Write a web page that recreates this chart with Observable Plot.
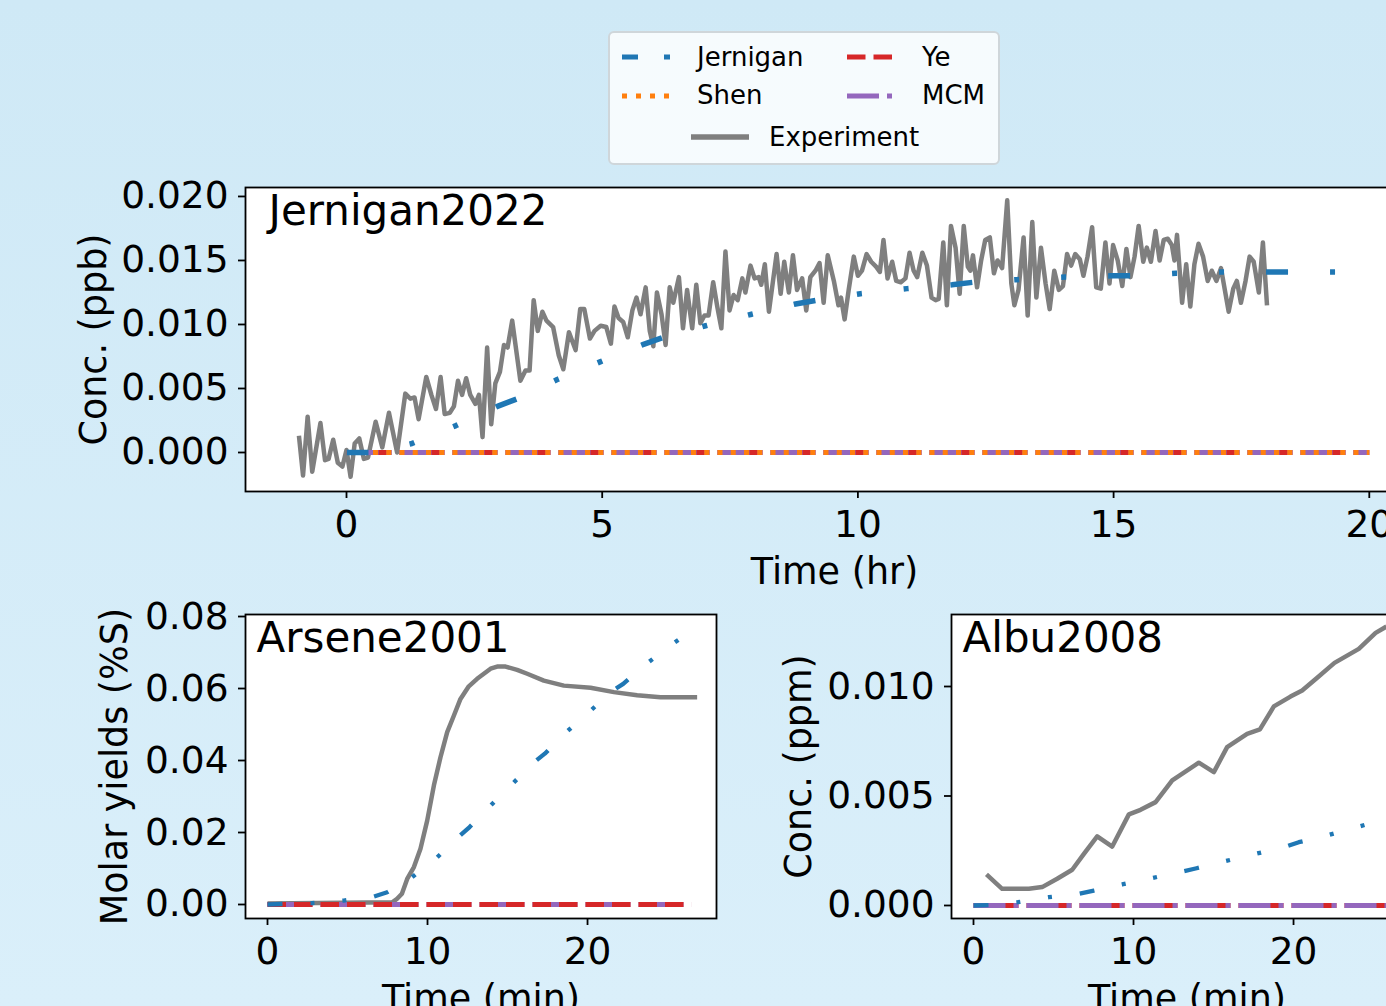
<!DOCTYPE html>
<html><head><meta charset="utf-8">
<script src="https://cdn.jsdelivr.net/npm/d3@7"></script>
<script src="https://cdn.jsdelivr.net/npm/@observablehq/plot@0.6"></script>
<style>
html,body{margin:0;padding:0;}
#fig{position:relative;width:1386px;height:1006px;overflow:hidden;background:linear-gradient(180deg,#cfe9f6 0%,#daeffa 100%);font-family:"DejaVu Sans",sans-serif;}
#legend{position:absolute;left:608px;top:31px;width:388px;height:130px;border:2px solid #cfd6da;border-radius:6px;background:rgba(255,255,255,0.8);}
</style></head><body><div id="fig"><div id="legend"></div></div>
<script>
// ---------- data ----------
const seriesNames = ["Jernigan", "Shen", "Ye", "MCM", "Experiment"];
const colors = {Jernigan: "#1f77b4", Shen: "#ff7f0e", Ye: "#d62728", MCM: "#9467bd", Experiment: "#7f7f7f"};

// Top panel: Jernigan2022 (hr, ppb)
const jerTopExpT = [-0.93,-0.85,-0.76,-0.67,-0.51,-0.42,-0.35,-0.26,-0.17,-0.08,
0.00,0.08,0.16,0.25,0.34,0.42,0.57,0.70,0.83,0.99,
1.15,1.25,1.33,1.41,1.56,1.66,1.75,1.84,1.92,2.02,
2.10,2.18,2.26,2.34,2.42,2.52,2.59,2.66,2.75,2.83,
2.91,3.00,3.08,3.15,3.24,3.40,3.50,3.58,3.66,3.74,
3.83,3.91,4.04,4.15,4.24,4.35,4.48,4.57,4.65,4.76,
4.85,4.97,5.08,5.17,5.24,5.32,5.41,5.50,5.59,5.67,
5.75,5.85,5.93,6.00,6.07,6.16,6.24,6.32,6.39,6.50,
6.58,6.66,6.76,6.84,6.92,7.00,7.08,7.17,7.25,7.33,
7.41,7.49,7.57,7.65,7.74,7.80,7.90,7.98,8.06,8.11,
8.18,8.26,8.41,8.49,8.56,8.65,8.73,8.81,8.91,8.99,
9.07,9.17,9.25,9.33,9.41,9.53,9.62,9.67,9.74,9.82,
9.92,10.00,10.08,10.17,10.26,10.36,10.43,10.50,10.58,10.67,
10.75,10.84,10.93,11.01,11.09,11.16,11.26,11.35,11.44,11.52,
11.58,11.67,11.74,11.82,11.91,11.99,12.07,12.15,12.20,12.25,
12.33,12.41,12.49,12.58,12.66,12.73,12.82,12.92,13.00,13.06,
13.14,13.24,13.32,13.41,13.49,13.58,13.67,13.75,13.84,13.93,
14.01,14.09,14.17,14.25,14.34,14.41,14.49,14.58,14.66,14.75,
14.84,14.92,14.99,15.08,15.17,15.25,15.33,15.41,15.49,15.58,
15.65,15.73,15.82,15.90,15.98,16.06,16.14,16.19,16.24,16.34,
16.42,16.50,16.58,16.66,16.75,16.84,16.92,17.01,17.10,17.25,
17.34,17.41,17.49,17.58,17.66,17.74,17.84,17.92,18.00];
const jerTopExpV = [0.0013,-0.0018,0.0028,-0.0015,0.0023,-0.0006,-0.0005,0.0010,-0.0008,-0.0011,
0.0002,-0.0019,0.0007,0.0011,-0.0005,-0.0004,0.0024,0.0004,0.0031,0.0000,
0.0046,0.0042,0.0043,0.0026,0.0059,0.0045,0.0034,0.0059,0.0030,0.0031,
0.0036,0.0056,0.0045,0.0058,0.0045,0.0038,0.0045,0.0012,0.0082,0.0022,
0.0054,0.0063,0.0084,0.0082,0.0103,0.0056,0.0064,0.0064,0.0119,0.0095,
0.0110,0.0103,0.0098,0.0076,0.0065,0.0094,0.0080,0.0112,0.0112,0.0089,
0.0095,0.0099,0.0098,0.0085,0.0114,0.0105,0.0102,0.0090,0.0111,0.0121,
0.0108,0.0129,0.0095,0.0083,0.0125,0.0108,0.0084,0.0129,0.0117,0.0137,
0.0097,0.0127,0.0097,0.0131,0.0101,0.0107,0.0107,0.0133,0.0114,0.0097,
0.0157,0.0111,0.0123,0.0119,0.0136,0.0125,0.0146,0.0136,0.0137,0.0131,
0.0147,0.0110,0.0155,0.0124,0.0149,0.0125,0.0154,0.0127,0.0136,0.0111,
0.0137,0.0142,0.0148,0.0117,0.0154,0.0134,0.0115,0.0121,0.0104,0.0127,
0.0153,0.0138,0.0142,0.0155,0.0149,0.0145,0.0141,0.0166,0.0136,0.0149,
0.0134,0.0133,0.0136,0.0156,0.0142,0.0137,0.0156,0.0146,0.0121,0.0119,
0.0120,0.0164,0.0115,0.0177,0.0160,0.0124,0.0177,0.0145,0.0142,0.0154,
0.0129,0.0150,0.0166,0.0168,0.0140,0.0150,0.0144,0.0197,0.0132,0.0115,
0.0127,0.0168,0.0107,0.0180,0.0121,0.0160,0.0132,0.0112,0.0142,0.0127,
0.0130,0.0155,0.0146,0.0155,0.0151,0.0138,0.0153,0.0176,0.0129,0.0128,
0.0164,0.0132,0.0162,0.0150,0.0130,0.0159,0.0137,0.0153,0.0177,0.0149,
0.0160,0.0149,0.0173,0.0150,0.0166,0.0167,0.0162,0.0150,0.0170,0.0117,
0.0147,0.0114,0.0147,0.0163,0.0153,0.0134,0.0142,0.0134,0.0144,0.0110,
0.0128,0.0134,0.0117,0.0134,0.0153,0.0149,0.0125,0.0164,0.0115];
const jerTopModT = [0,0.5,1.28,2.14,2.95,3.34,4.12,4.97,5.78,6.2,7.02,7.92,8.78,9.2,10.05,10.96,11.84,12.26,13.11,14.06,14.94,15.36,16.22,17.15,18.0,19.3,20];
const jerTopModV = [0,0,0.0007,0.0021,0.0036,0.0042,0.0057,0.0071,0.0084,0.0090,0.0099,0.0108,0.0116,0.0119,0.0124,0.0128,0.0131,0.0133,0.0135,0.0137,0.0138,0.0138,0.0140,0.0141,0.0141,0.0141,0.0141];
const jerTopZeroT = [0, 20];
const jerTopZeroV = [0, 0];

// Bottom-left: Arsene2001 (min, molar yield %S)
const arsExpT = [0,7.8,8.1,8.4,8.73,9.15,9.56,9.98,10.4,10.81,11.23,11.65,12.06,12.58,13.1,13.94,14.35,14.88,15.6,16.23,17.27,18.52,20.19,21.65,23.1,24.56,26.85];
const arsExpV = [0.0003,0.0006,0.0016,0.003,0.0071,0.0104,0.0155,0.0233,0.0331,0.0409,0.0479,0.0525,0.0571,0.0606,0.0627,0.0655,0.0661,0.0661,0.0652,0.0641,0.0622,0.0608,0.0602,0.059,0.0581,0.0576,0.0576];
const arsModT = [0,2.79,4.77,6.65,7.48,9.04,10.6,11.92,12.63,13.9,15.3,16.6,17.33,18.63,20.13,21.54,22.23,23.63,25.23,26.0];
const arsModV = [0,0.0004,0.0011,0.0022,0.0034,0.0076,0.0131,0.0187,0.0215,0.0273,0.0335,0.0393,0.0419,0.0477,0.0536,0.0593,0.0613,0.0667,0.0721,0.0745];
const arsZeroT = [0, 26.5];
const arsZeroV = [0, 0];

// Bottom-right: Albu2008 (min, ppm)
const albExpT = [0.81,1.79,3.46,4.29,5.23,6.17,6.9,7.73,8.67,9.71,10.44,11.38,12.42,14.08,15.02,15.85,17.1,17.9,18.77,19.81,20.54,21.48,22.56,24.08,25.13,25.81];
const albExpV = [0.00142,0.00076,0.00076,0.00084,0.00122,0.00163,0.00236,0.00316,0.00269,0.00416,0.00437,0.00472,0.00571,0.00652,0.00609,0.00723,0.00784,0.00804,0.00909,0.00954,0.00982,0.0104,0.01108,0.01172,0.01245,0.01274];
const albModT = [0,1.0,2.77,4.71,6.58,7.52,9.29,11.21,13.04,13.94,15.71,17.63,19.4,20.33,22.1,23.98,25.8,27];
const albModV = [0,0.00002,0.00015,0.00038,0.00053,0.00068,0.00096,0.00126,0.00155,0.0017,0.00202,0.00236,0.00266,0.00289,0.0032,0.00358,0.00396,0.0042];
const albZeroT = [0, 27];
const albZeroV = [0, 0];

// ticks
const topXTicks = [0,5,10,15,20];
const topYTicks = [0,0.005,0.010,0.015,0.020];
const arsXTicks = [0,10,20];
const arsYTicks = [0,0.02,0.04,0.06,0.08];
const albXTicks = [0,10,20];
const albYTicks = [0,0.005,0.010];

// ---------- helpers ----------
const rows = (T, V) => T.map((t, i) => ({t, v: V[i]}));
const FONT = "DejaVu Sans";
const styles = {
  Jernigan: {stroke: colors.Jernigan},
  Shen: {stroke: colors.Shen, strokeWidth: 5, strokeDasharray: "5,8.25"},
  Ye: {stroke: colors.Ye, strokeWidth: 5, strokeDasharray: "18.5,8"},
  MCM: {stroke: colors.MCM, strokeWidth: 5, strokeDasharray: "32,8,5,8"},
  Experiment: {stroke: colors.Experiment, strokeWidth: 4.5}
};
function line(data, name, extra = {}) {
  return Plot.line(data, {x: "t", y: "v", strokeLinecap: "butt", strokeLinejoin: "round", ...styles[name], ...extra});
}

function panel(o) {
  const svg = Plot.plot({
    width: o.width, height: o.height,
    marginLeft: o.mL, marginRight: o.mR, marginTop: o.mT, marginBottom: o.mB,
    x: {domain: o.xDomain},
    y: {domain: o.yDomain},
    style: {position: "absolute", left: o.left + "px", top: o.top + "px", background: "transparent",
            overflow: "visible", fontFamily: FONT, color: "black", maxWidth: "none"},
    marks: [
      Plot.frame({fill: "white", stroke: "none"}),
      ...o.layers,
      Plot.frame({stroke: "black", strokeWidth: 1.8}),
      Plot.axisX({ticks: o.xTicks, tickSize: 7, tickPadding: 12, fontSize: 37.5, strokeWidth: 1.8, label: null, tickFormat: d3.format("d")}),
      Plot.axisY({ticks: o.yTicks, tickSize: 7, tickPadding: 10, fontSize: 37.5, strokeWidth: 1.8, label: null, tickFormat: d3.format(o.yFmt)}),
      Plot.text([o.xLabel], {text: d => d, frameAnchor: "bottom", dy: 80.5, lineAnchor: "middle", textAnchor: "middle", fontSize: 36.5, fill: "black"}),
      Plot.text([o.yLabel], {text: d => d, frameAnchor: "left", dx: o.yLabelDx, rotate: -90, lineAnchor: "middle", textAnchor: "middle", fontSize: 36.5, fill: "black"}),
      Plot.text([o.title], {text: d => d, frameAnchor: "top-left", dx: o.titleDx, dy: 8, lineAnchor: "top", textAnchor: "start", fontSize: 42, fill: "black"})
    ]
  });
  document.getElementById("fig").appendChild(svg);
}

// ---------- top panel ----------
const topZero = rows(jerTopZeroT, jerTopZeroV);
panel({
  left: 0, top: 150, width: 1440, height: 480, mL: 245, mR: 17, mT: 37, mB: 139,
  xDomain: [-1.975, 21.06], yDomain: [-0.003047, 0.0207],
  xTicks: topXTicks, yTicks: topYTicks, yFmt: ".3f",
  xLabel: "Time (hr)", yLabel: "Conc. (ppb)", yLabelDx: -151,
  title: "Jernigan2022", titleDx: 23,
  layers: [
    line(rows(jerTopExpT, jerTopExpV), "Experiment"),
    line(topZero, "Ye"),
    line(topZero, "MCM"),
    line(topZero, "Shen"),
    line(rows(jerTopModT, jerTopModV), "Jernigan", {strokeWidth: 5.5, strokeDasharray: "22,42,5,42,5,42"})
  ]
});

// ---------- bottom-left ----------
const arsZero = rows(arsZeroT, arsZeroV);
panel({
  left: 0, top: 580, width: 740, height: 426, mL: 245, mR: 24, mT: 34, mB: 88,
  xDomain: [-1.375, 28.06], yDomain: [-0.00389, 0.08056],
  xTicks: arsXTicks, yTicks: arsYTicks, yFmt: ".2f",
  xLabel: "Time (min)", yLabel: "Molar yields (%S)", yLabelDx: -130,
  title: "Arsene2001", titleDx: 11,
  layers: [
    line(rows(arsExpT, arsExpV), "Experiment"),
    line(arsZero, "MCM"),
    line(arsZero, "Ye"),
    line(rows(arsModT, arsModV), "Jernigan", {strokeWidth: 4.3, strokeDasharray: "15,28,4,28,4,28"})
  ]
});

// ---------- bottom-right ----------
const albZero = rows(albZeroT, albZeroV);
panel({
  left: 740, top: 580, width: 700, height: 426, mL: 211, mR: 18, mT: 34, mB: 88,
  xDomain: [-1.375, 28.06], yDomain: [-0.000594, 0.013288],
  xTicks: albXTicks, yTicks: albYTicks, yFmt: ".3f",
  xLabel: "Time (min)", yLabel: "Conc. (ppm)", yLabelDx: -152,
  title: "Albu2008", titleDx: 11,
  layers: [
    line(rows(albExpT, albExpV), "Experiment"),
    line(albZero, "Ye"),
    line(albZero, "MCM"),
    line(rows(albModT, albModV), "Jernigan", {strokeWidth: 4.3, strokeDasharray: "15,28,4,28,4,28"})
  ]
});

// ---------- legend ----------
const legendItems = [
  {name: "Jernigan", x1: 12, x2: 60, y: 26, tx: 87, ty: 35, w: 5, dash: "16,26,6,26"},
  {name: "Shen", x1: 12, x2: 60, y: 65, tx: 87, ty: 73, w: 5, dash: "5,9"},
  {name: "Ye", x1: 237, x2: 285, y: 26, tx: 312, ty: 35, w: 5, dash: "18.5,8"},
  {name: "MCM", x1: 237, x2: 285, y: 65, tx: 312, ty: 73, w: 5, dash: "32,8,5,8"},
  {name: "Experiment", x1: 81, x2: 139, y: 106, tx: 159, ty: 115, w: 5.5, dash: null}
];
const lg = d3.select("#legend").append("svg").attr("width", 388).attr("height", 130)
  .style("position", "absolute").style("left", "0px").style("top", "0px");
for (const it of legendItems) {
  lg.append("line").attr("x1", it.x1).attr("x2", it.x2).attr("y1", it.y - 2).attr("y2", it.y - 2)
    .attr("stroke", colors[it.name]).attr("stroke-width", it.w)
    .attr("stroke-dasharray", it.dash).attr("stroke-linecap", "butt");
  lg.append("text").attr("x", it.tx).attr("y", it.ty - 2).attr("font-family", FONT)
    .attr("font-size", 26).attr("fill", "black").text(it.name);
}
</script></body></html>
